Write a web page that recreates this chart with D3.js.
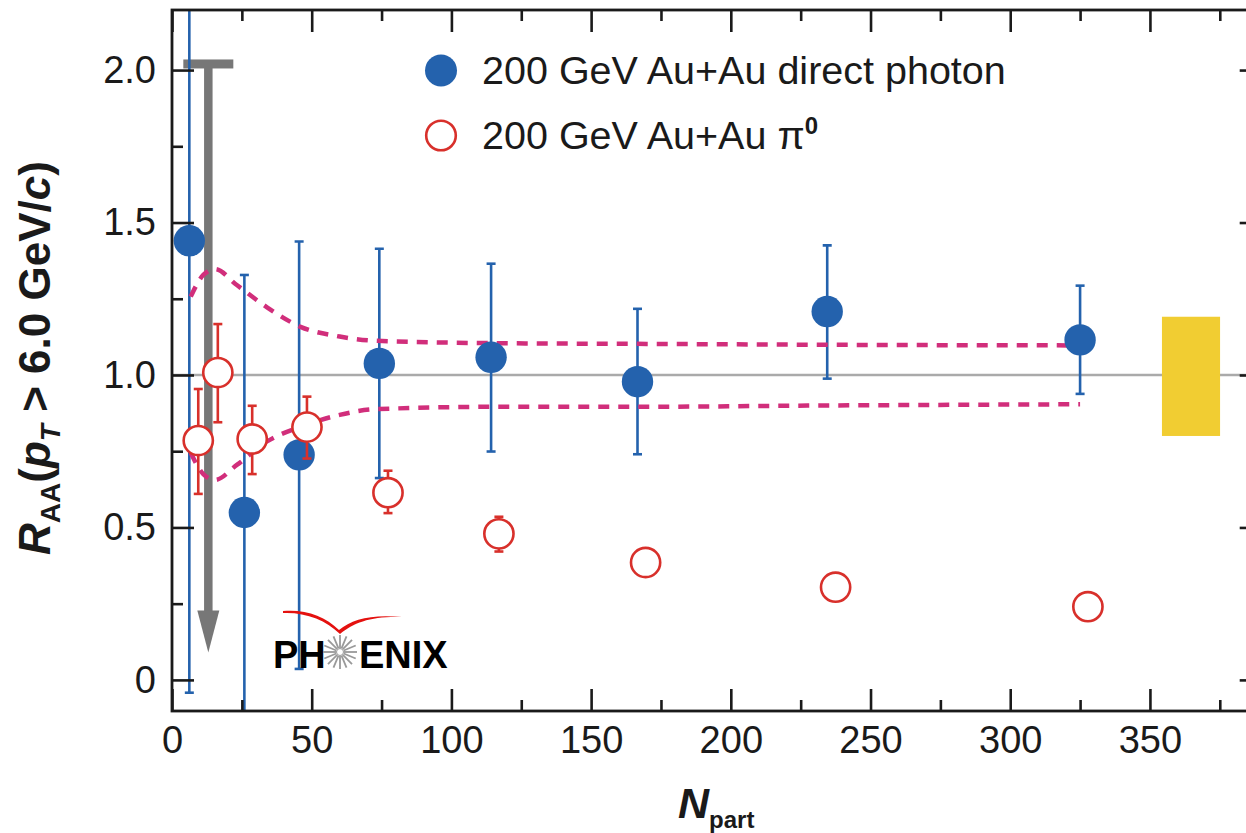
<!DOCTYPE html>
<html>
<head>
<meta charset="utf-8">
<script src="https://cdn.jsdelivr.net/npm/d3@7"></script>
<style>
    body { margin: 0; background: #fff; }
    svg { display: block; font-family: "Liberation Sans", Arial, Helvetica, sans-serif; }
</style>
</head>
<body>
<div id="chart"></div>
<script>
// direct photon R_AA vs centrality (filled)
const photonNpart = [6.2, 25.9, 45.5, 74.2, 114.2, 166.6, 234.5, 325.0];
const photonRaa   = [1.44, 0.549, 0.738, 1.038, 1.058, 0.978, 1.208, 1.115];
const photonHi    = [2.6, 1.328, 1.438, 1.414, 1.365, 1.217, 1.425, 1.293];
const photonLo    = [-0.042, -0.3, 0.036, 0.662, 0.749, 0.740, 0.988, 0.938];

// pi0 R_AA (open)
const pionNpart = [9.4, 16.4, 28.7, 48.3, 77.3, 117.0, 169.5, 237.5, 327.8];
const pionRaa   = [0.785, 1.008, 0.790, 0.829, 0.614, 0.479, 0.385, 0.304, 0.240];
const pionHi    = [0.954, 1.167, 0.899, 0.929, 0.686, 0.535, 0.41, 0.325, 0.26];
const pionLo    = [0.610, 0.845, 0.675, 0.726, 0.547, 0.421, 0.36, 0.285, 0.22];

// Ncoll uncertainty band (dashed)
const bandNpart = [6.7, 11.2, 15.4, 23.2, 34, 46, 60, 73, 120, 170, 235, 325];
const bandUpper = [1.257, 1.328, 1.347, 1.295, 1.222, 1.158, 1.126, 1.112, 1.104, 1.102, 1.099, 1.097];
const bandLower = [0.745, 0.675, 0.656, 0.705, 0.782, 0.830, 0.869, 0.888, 0.896, 0.896, 0.900, 0.904];

// most peripheral bin: upper limit
const limitNpart = 13.0;
const limitTop = 2.02;
const limitTip = 0.09;

// global normalisation box
const normNpart = [354.3, 375.1];
const normRange = [0.80, 1.191];

const xTicks = [0, 50, 100, 150, 200, 250, 300, 350];
const xMinor = [25, 75, 125, 175, 225, 275, 325, 375];
const yTicks = [0, 0.5, 1.0, 1.5, 2.0];
const yMinor = [0.25, 0.75, 1.25, 1.75];

const legendLabels = ["200 GeV Au+Au direct photon", "200 GeV Au+Au "];

const width = 1246;
const height = 833;
const blue = "#2462ad";
const red = "#d8302b";
const pink = "#d12e7b";

const x = d3.scaleLinear().domain([0, 390]).range([172, 1261.7]);
const y = d3.scaleLinear().domain([-0.102, 2.197]).range([711, 10]);

const svg = d3.select("#chart")
    .append("svg")
    .attr("width", width)
    .attr("height", height);

svg.append("rect")
    .attr("width", width)
    .attr("height", height)
    .attr("fill", "#fff");

svg.append("defs").append("clipPath")
    .attr("id", "plot-clip")
    .append("rect")
    .attr("x", x.range()[0])
    .attr("y", y.range()[1])
    .attr("width", x.range()[1] - x.range()[0])
    .attr("height", y.range()[0] - y.range()[1]);

const plot = svg.append("g").attr("clip-path", "url(#plot-clip)");

// R_AA = 1 reference
plot.append("line")
    .attr("x1", x.range()[0])
    .attr("x2", x.range()[1])
    .attr("y1", y(1))
    .attr("y2", y(1))
    .attr("stroke", "#aaa")
    .attr("stroke-width", 2.6);

plot.append("rect")
    .attr("x", x(normNpart[0]))
    .attr("y", y(normRange[1]))
    .attr("width", x(normNpart[1]) - x(normNpart[0]))
    .attr("height", y(normRange[0]) - y(normRange[1]))
    .attr("fill", "#f1cd32");

// PHENIX logo
const logo = svg.append("g");
logo.append("text")
    .attr("x", 273)
    .attr("y", 668)
    .attr("font-size", 38)
    .attr("font-weight", "bold")
    .attr("fill", "#000")
    .text("PH");
logo.append("text")
    .attr("x", 359)
    .attr("y", 668)
    .attr("font-size", 38)
    .attr("font-weight", "bold")
    .attr("fill", "#000")
    .text("ENIX");
const star = logo.append("g").attr("transform", "translate(340,652)");
star.selectAll("line")
    .data(d3.range(16))
    .enter()
    .append("line")
    .attr("x1", d => 4 * Math.cos(d * Math.PI / 8))
    .attr("y1", d => 4 * Math.sin(d * Math.PI / 8))
    .attr("x2", d => 17 * Math.cos(d * Math.PI / 8))
    .attr("y2", d => 17 * Math.sin(d * Math.PI / 8))
    .attr("stroke", "#999")
    .attr("stroke-width", 1.8);
star.append("circle")
    .attr("r", 3.5)
    .attr("fill", "#fff")
    .attr("stroke", "#999")
    .attr("stroke-width", 1);
// swoosh: thin tail on the left, thicker near the notch
logo.append("path")
    .attr("d", "M283,611 C305,609 325,616 339,630 C352,619 372,614 402,617 " +
               "C372,616 354,622 340,634 C326,620 305,612 283,613 Z")
    .attr("fill", "#e4110f");

// upper limit arrow
const ax = x(limitNpart);
plot.append("line")
    .attr("x1", ax).attr("x2", ax)
    .attr("y1", y(limitTop))
    .attr("y2", y(limitTip) - 40)
    .attr("stroke", "#777")
    .attr("stroke-width", 8.5);
plot.append("rect")
    .attr("x", ax - 25)
    .attr("y", y(limitTop) - 4.5)
    .attr("width", 50)
    .attr("height", 9)
    .attr("fill", "#777");
plot.append("path")
    .attr("d", `M${ax - 11},${y(limitTip) - 42} L${ax + 11},${y(limitTip) - 42} L${ax},${y(limitTip)} Z`)
    .attr("fill", "#777");

function errorBars(g, ns, his, los, color) {
    const bars = g.append("g");
    ns.forEach((n, i) => {
        const cx = x(n);
        bars.append("line")
            .attr("x1", cx).attr("x2", cx)
            .attr("y1", y(his[i])).attr("y2", y(los[i]))
            .attr("stroke", color)
            .attr("stroke-width", 2.6);
        [his[i], los[i]].forEach(v => {
            bars.append("line")
                .attr("x1", cx - 4.5).attr("x2", cx + 4.5)
                .attr("y1", y(v)).attr("y2", y(v))
                .attr("stroke", color)
                .attr("stroke-width", 2.6);
        });
    });
}

errorBars(plot, photonNpart, photonHi, photonLo, blue);

// dashed band
const bandLine = d3.line()
    .x(d => x(d[0]))
    .y(d => y(d[1]))
    .curve(d3.curveMonotoneX);

[bandUpper, bandLower].forEach(vals => {
    plot.append("path")
        .datum(bandNpart.map((n, i) => [n, vals[i]]))
        .attr("d", bandLine)
        .attr("fill", "none")
        .attr("stroke", pink)
        .attr("stroke-width", 4.5)
        .attr("stroke-dasharray", "11,9");
});

plot.selectAll(".photon")
    .data(photonNpart)
    .enter()
    .append("circle")
    .attr("class", "photon")
    .attr("cx", d => x(d))
    .attr("cy", (d, i) => y(photonRaa[i]))
    .attr("r", 15.7)
    .attr("fill", blue);

errorBars(plot, pionNpart, pionHi, pionLo, red);

plot.selectAll(".pion")
    .data(pionNpart)
    .enter()
    .append("circle")
    .attr("class", "pion")
    .attr("cx", d => x(d))
    .attr("cy", (d, i) => y(pionRaa[i]))
    .attr("r", 14.6)
    .attr("fill", "#fff")
    .attr("stroke", red)
    .attr("stroke-width", 2.6);

// axes
const axisColor = "#1a1a1a";

function styleAxis(g) {
    g.select(".domain").remove();
    g.selectAll("line").attr("stroke", axisColor).attr("stroke-width", 2.6);
    g.selectAll("text")
        .attr("fill", axisColor)
        .attr("font-size", 38)
        .attr("font-family", "'Liberation Sans', Arial, sans-serif");
}

svg.append("g")
    .attr("transform", `translate(0,${y.range()[0]})`)
    .call(d3.axisBottom(x).tickValues(xTicks).tickSizeInner(-22).tickSizeOuter(0).tickPadding(15))
    .call(styleAxis);
svg.append("g")
    .attr("transform", `translate(0,${y.range()[0]})`)
    .call(d3.axisBottom(x).tickValues(xMinor).tickSizeInner(-11).tickSizeOuter(0).tickFormat(""))
    .call(styleAxis);
svg.append("g")
    .attr("transform", `translate(0,${y.range()[1]})`)
    .call(d3.axisTop(x).tickValues(xTicks).tickSizeInner(-22).tickSizeOuter(0).tickFormat(""))
    .call(styleAxis);
svg.append("g")
    .attr("transform", `translate(0,${y.range()[1]})`)
    .call(d3.axisTop(x).tickValues(xMinor).tickSizeInner(-11).tickSizeOuter(0).tickFormat(""))
    .call(styleAxis);

svg.append("g")
    .attr("transform", `translate(${x.range()[0]},0)`)
    .call(d3.axisLeft(y).tickValues(yTicks).tickSizeInner(-22).tickSizeOuter(0).tickPadding(16)
        .tickFormat(d => d === 0 ? "0" : d3.format(".1f")(d)))
    .call(styleAxis);
svg.append("g")
    .attr("transform", `translate(${x.range()[0]},0)`)
    .call(d3.axisLeft(y).tickValues(yMinor).tickSizeInner(-11).tickSizeOuter(0).tickFormat(""))
    .call(styleAxis);
svg.append("g")
    .attr("transform", `translate(${x.range()[1]},0)`)
    .call(d3.axisRight(y).tickValues(yTicks).tickSizeInner(-22).tickSizeOuter(0).tickFormat(""))
    .call(styleAxis);
svg.append("g")
    .attr("transform", `translate(${x.range()[1]},0)`)
    .call(d3.axisRight(y).tickValues(yMinor).tickSizeInner(-11).tickSizeOuter(0).tickFormat(""))
    .call(styleAxis);

svg.append("rect")
    .attr("x", x.range()[0])
    .attr("y", y.range()[1])
    .attr("width", x.range()[1] - x.range()[0])
    .attr("height", y.range()[0] - y.range()[1])
    .attr("fill", "none")
    .attr("stroke", axisColor)
    .attr("stroke-width", 2.8);

// axis titles
const xTitle = svg.append("text")
    .attr("x", 678)
    .attr("y", 818)
    .attr("fill", axisColor)
    .attr("font-weight", "bold");
xTitle.append("tspan").attr("font-size", 43).attr("font-style", "italic").text("N");
xTitle.append("tspan").attr("font-size", 24).attr("dy", 10).text("part");

const yTitle = svg.append("text")
    .attr("transform", "translate(50,358) rotate(-90)")
    .attr("text-anchor", "middle")
    .attr("fill", axisColor)
    .attr("font-weight", "bold")
    .attr("font-size", 44);
yTitle.append("tspan").attr("font-style", "italic").text("R");
yTitle.append("tspan").attr("font-size", 28).attr("dy", 10).text("AA");
yTitle.append("tspan").attr("dy", -10).text("(");
yTitle.append("tspan").attr("font-style", "italic").text("p");
yTitle.append("tspan").attr("font-style", "italic").attr("font-size", 28).attr("dy", 10).text("T");
yTitle.append("tspan").attr("dy", -10).text(" > 6.0 GeV/");
yTitle.append("tspan").attr("font-style", "italic").text("c");
yTitle.append("tspan").text(")");

// legend
const legend = svg.append("g");
legend.append("circle")
    .attr("cx", 441).attr("cy", 70.5)
    .attr("r", 16)
    .attr("fill", blue);
legend.append("circle")
    .attr("cx", 441).attr("cy", 135.5)
    .attr("r", 14.8)
    .attr("fill", "#fff")
    .attr("stroke", red)
    .attr("stroke-width", 2.6);
legend.append("text")
    .attr("x", 482).attr("y", 84)
    .attr("font-size", 39.5)
    .attr("fill", axisColor)
    .text(legendLabels[0]);
const pionLabel = legend.append("text")
    .attr("x", 482).attr("y", 149)
    .attr("font-size", 39.5)
    .attr("fill", axisColor);
pionLabel.append("tspan").text(legendLabels[1]);
pionLabel.append("tspan").text("π");
pionLabel.append("tspan").attr("font-size", 24).attr("font-weight", "bold").attr("dy", -15).text("0");
</script>
</body>
</html>
